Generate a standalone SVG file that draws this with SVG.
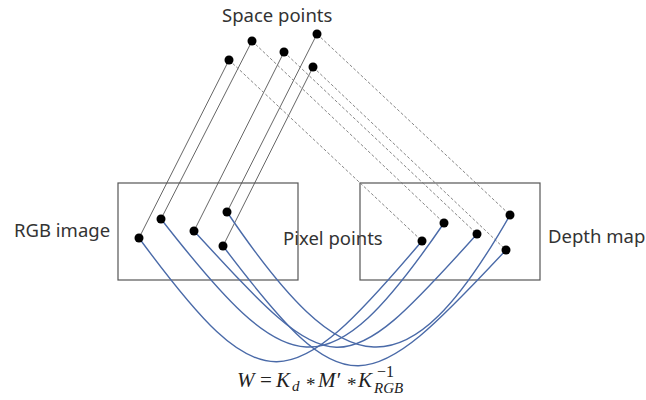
<svg xmlns="http://www.w3.org/2000/svg" width="646" height="400" viewBox="0 0 646 400">
<style>
.lbl{font-family:"Noto Sans","Liberation Sans",sans-serif;font-size:18.5px;fill:#333}
.box{fill:none;stroke:#555;stroke-width:1.2}
.pt{fill:#000}
.solid{stroke:#555;stroke-width:0.9;fill:none}
.dash{stroke:#777;stroke-width:0.9;stroke-dasharray:3 2;fill:none}
.blue{stroke:#4a6aa8;stroke-width:1.4;fill:none}
.eq{font-family:"Liberation Serif",serif;font-style:italic;fill:#222}
.op{font-family:"Liberation Serif",serif;fill:#222}
</style>
<rect width="646" height="400" fill="#fff"/>
<g id="rgb-image">
<rect class="box" x="118" y="183" width="180" height="97"/>
<text class="lbl" x="14" y="237">RGB image</text>
</g>
<g id="depth-map">
<rect class="box" x="360" y="183" width="180" height="97"/>
<text class="lbl" x="548" y="243">Depth map</text>
</g>
<g id="space-points-label"><text class="lbl" x="222" y="22">Space points</text></g>
<g id="pixel-points-label"><text class="lbl" x="283" y="245">Pixel points</text></g>
<g id="connectors">
<line class="solid" x1="229" y1="60" x2="139" y2="238"/>
<line class="solid" x1="252" y1="41" x2="161" y2="219"/>
<line class="solid" x1="284" y1="52" x2="194" y2="231"/>
<line class="solid" x1="317" y1="34" x2="227" y2="212"/>
<line class="solid" x1="313" y1="67" x2="223" y2="246"/>
<line class="dash" x1="229" y1="60" x2="422" y2="241"/>
<line class="dash" x1="252" y1="41" x2="444" y2="223"/>
<line class="dash" x1="284" y1="52" x2="477" y2="234"/>
<line class="dash" x1="317" y1="34" x2="510" y2="215"/>
<line class="dash" x1="313" y1="67" x2="506" y2="250"/>
<path class="blue" d="M139 238 C263 406 288 399 422 241"/>
<path class="blue" d="M161 219 C289 383 326 395 444 223"/>
<path class="blue" d="M194 231 C334 383 339 388 477 234"/>
<path class="blue" d="M227 212 C345 386 406 397 510 215"/>
<path class="blue" d="M223 246 C347 410 366 400 506 250"/>
</g>
<g id="space-points">
<circle class="pt" cx="229" cy="60" r="4.5"/>
<circle class="pt" cx="252" cy="41" r="4.5"/>
<circle class="pt" cx="284" cy="52" r="4.5"/>
<circle class="pt" cx="317" cy="34" r="4.5"/>
<circle class="pt" cx="313" cy="67" r="4.5"/>
</g>
<g id="rgb-points">
<circle class="pt" cx="139" cy="238" r="4.5"/>
<circle class="pt" cx="161" cy="219" r="4.5"/>
<circle class="pt" cx="194" cy="231" r="4.5"/>
<circle class="pt" cx="227" cy="212" r="4.5"/>
<circle class="pt" cx="223" cy="246" r="4.5"/>
</g>
<g id="depth-points">
<circle class="pt" cx="422" cy="241" r="4.5"/>
<circle class="pt" cx="444" cy="223" r="4.5"/>
<circle class="pt" cx="477" cy="234" r="4.5"/>
<circle class="pt" cx="510" cy="215" r="4.5"/>
<circle class="pt" cx="506" cy="250" r="4.5"/>
</g>
<g id="equation">
<text class="eq" x="237" y="387" font-size="21">W</text>
<text class="op" x="260" y="387" font-size="21">=</text>
<text class="eq" x="276" y="387" font-size="21">K</text>
<text class="eq" x="292" y="391" font-size="15">d</text>
<text class="op" x="306" y="391" font-size="19">*</text>
<text class="eq" x="318" y="387" font-size="21">M′</text>
<text class="op" x="347" y="391" font-size="19">*</text>
<text class="eq" x="358" y="387" font-size="21">K</text>
<text class="op" x="377" y="377" font-size="16">−1</text>
<text class="eq" x="374" y="393" font-size="15">RGB</text>
</g>
</svg>
